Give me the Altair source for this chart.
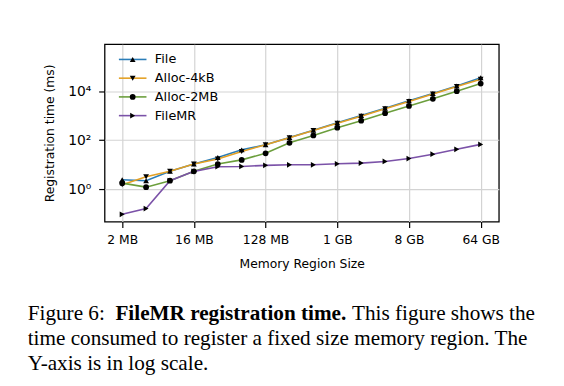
import altair as alt
import pandas as pd

sizes_mb = [2, 4, 8, 16, 32, 64, 128, 256, 512, 1024, 2048, 4096, 8192, 16384, 32768, 65536]
file_ms = [2.4, 2.2, 5.3, 10.5, 19.5, 40, 65, 128, 253, 515, 1020, 2000, 4060, 8100, 16300, 35000]
alloc4k_ms = [1.5, 3.2, 5.3, 10.5, 17, 34, 65, 125, 245, 485, 955, 1900, 3820, 7600, 15400, 30500]
alloc2m_ms = [1.75, 1.2, 2.2, 5.3, 10.5, 15.6, 29, 78, 155, 323, 620, 1260, 2500, 4900, 10000, 20400]
filemr_ms = [0.093, 0.16, 2.2, 5.3, 8.2, 8.4, 9.3, 9.8, 9.8, 10.8, 11.5, 13.4, 17.7, 26.5, 42, 67]

series_names = ["File", "Alloc-4kB", "Alloc-2MB", "FileMR"]
series_colors = ["#2a7db8", "#e3a024", "#6b9e3c", "#7b52a8"]
series_shapes = ["triangle-up", "triangle-down", "circle", "triangle-right"]
x_tick_values = [2, 16, 128, 1024, 8192, 65536]
x_tick_labels = ["2 MB", "16 MB", "128 MB", "1 GB", "8 GB", "64 GB"]
y_tick_values = [1, 100, 10000]
y_tick_labels = ["10⁰", "10²", "10⁴"]

rows = []
for name, vals in zip(series_names, [file_ms, alloc4k_ms, alloc2m_ms, filemr_ms]):
    for s, v in zip(sizes_mb, vals):
        rows.append({"size": s, "ms": v, "series": name})
df = pd.DataFrame(rows)

label_map = "{" + ",".join(f"'{v}':'{l}'" for v, l in zip(x_tick_values, x_tick_labels)) + "}"
ylabel_map = "{" + ",".join(f"'{v}':'{l}'" for v, l in zip(y_tick_values, y_tick_labels)) + "}"

x = alt.X("size:Q",
          scale=alt.Scale(type="log", base=2, domain=[1.2, 111000], nice=False),
          axis=alt.Axis(values=x_tick_values, labelExpr=f"{label_map}[datum.value]",
                        title="Memory Region Size", titlePadding=12, labelPadding=6))
y = alt.Y("ms:Q",
          scale=alt.Scale(type="log", domain=[0.047, 832000], nice=False),
          axis=alt.Axis(values=y_tick_values, labelExpr=f"{ylabel_map}[datum.value]",
                        labelFontSize=14, title="Registration time (ms)",
                        titlePadding=11, labelPadding=8))

SYM = 34
legend_common = dict(orient="none", legendX=22, legendY=9, title=None, padding=0,
                     symbolSize=SYM, rowPadding=5, labelFont="DejaVu Sans",
                     labelFontSize=13, labelColor="black")

lines = alt.Chart(df).mark_line(strokeWidth=1.6).encode(
    x=x, y=y,
    color=alt.Color("series:N",
                    scale=alt.Scale(domain=series_names, range=series_colors),
                    legend=alt.Legend(symbolType="M-4.8,0H4.8", symbolStrokeWidth=1.6,
                                      labelOffset=16, **legend_common)),
    order=alt.Order("size:Q"),
)
points = alt.Chart(df).mark_point(filled=True, size=SYM, opacity=1).encode(
    x=x, y=y,
    color=alt.value("black"),
    shape=alt.Shape("series:N",
                    scale=alt.Scale(domain=series_names, range=series_shapes),
                    legend=alt.Legend(labelOpacity=0, labelOffset=16, **legend_common)),
)

def cap(text, px, py, bold=False):
    return alt.Chart(pd.DataFrame({"t": [text]})).mark_text(
        align="left", baseline="alphabetic", font="Liberation Serif", fontSize=21.5,
        fontWeight="bold" if bold else "normal", color="black"
    ).encode(x=alt.value(px), y=alt.value(py), text="t:N")

caption = [
    cap("Figure 6:", -78, 280),
    cap("FileMR registration time.", 11, 280, bold=True),
    cap("This figure shows the", 251, 280),
    cap("time consumed to register a fixed size memory region. The", -78, 305.5),
    cap("Y-axis is in log scale.", -78, 331),
]

chart = alt.layer(lines, points, *caption).resolve_legend(color="independent", shape="independent").properties(
    width=400, height=180,
    autosize=alt.AutoSizeParams(type="none"),
    padding={"left": 98, "top": 34, "right": 58, "bottom": 156},
).configure_view(stroke="black", strokeWidth=1.3).configure_axis(
    domain=False, grid=True, gridColor="#d3d3d3", gridWidth=1.2,
    tickColor="black", tickSize=6, tickWidth=1.2,
    labelFont="DejaVu Sans", labelFontSize=12.5, labelColor="black",
    titleFont="DejaVu Sans", titleFontSize=12.5, titleFontWeight="normal", titleColor="black",
)

chart.save("out.html", embed_options={"renderer": "svg", "actions": False})
